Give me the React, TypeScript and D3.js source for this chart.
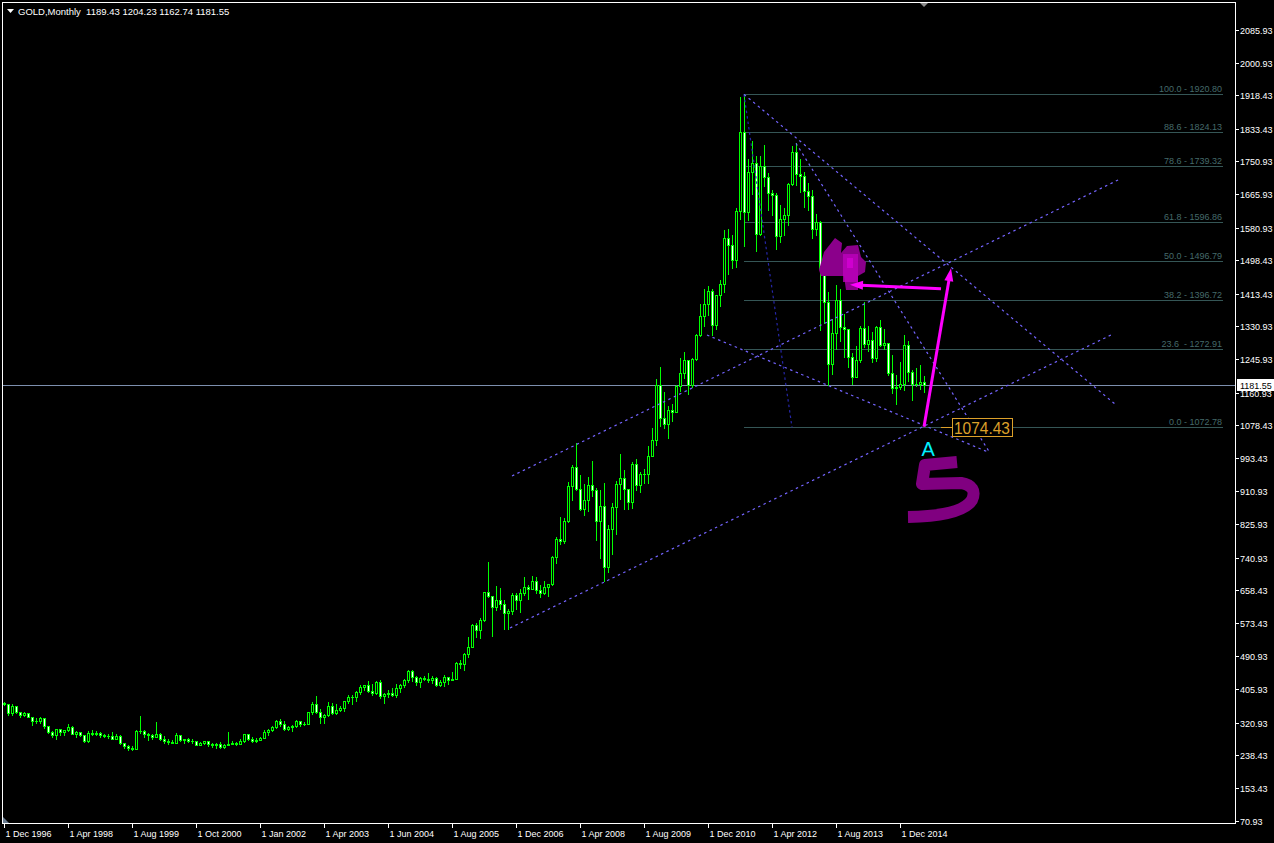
import React from 'react';
import * as d3 from 'd3';

type Bar = [number, number, number, number]; // open, high, low, close

// ---- candles (monthly OHLC, broker series with a few extra bars 1999-2005) ----
const bars1996to1999: Bar[] = [
  [371, 372, 365, 369], [369, 369, 341, 345], [345, 367, 340, 362], [362, 364, 346, 349],
  [349, 349, 336, 340], [340, 349, 337, 344], [344, 346, 334, 334], [334, 334, 314, 326],
  [326, 332, 319, 325], [325, 336, 320, 332], [332, 333, 307, 311], [311, 312, 294, 296],
  [296, 299, 283, 290], [290, 305, 278, 304], [304, 305, 289, 297], [297, 303, 288, 301],
  [301, 316, 300, 310], [310, 311, 292, 293], [293, 300, 285, 296], [296, 297, 286, 288],
  [288, 290, 271, 273], [273, 300, 272, 294], [294, 302, 288, 292], [292, 300, 290, 294],
  [294, 297, 283, 288], [288, 292, 283, 287], [287, 292, 282, 286], [286, 296, 278, 280],
  [280, 291, 278, 286], [286, 290, 266, 268], [268, 269, 257, 262], [262, 264, 252, 255],
];
const bars1999to2000: Bar[] = [
  [255, 261, 251, 254], [254, 302, 253, 299], [299, 338, 294, 299], [299, 301, 285, 292],
  [292, 294, 276, 290], [290, 292, 280, 283], [283, 322, 283, 293], [293, 294, 276, 278],
  [278, 286, 270, 274], [274, 280, 265, 272], [272, 276, 268, 270], [270, 294, 269, 288],
  [288, 290, 275, 277], [277, 280, 270, 278], [278, 281, 272, 275], [275, 278, 268, 273],
  [273, 275, 263, 264],
];
const bars2000to2002: Bar[] = [
  [264, 271, 263, 270], [270, 275, 267, 273], [273, 273, 262, 265], [265, 268, 259, 263],
  [263, 269, 255, 267], [267, 271, 256, 258], [258, 266, 255, 264], [264, 296, 263, 267],
  [267, 275, 265, 270], [270, 272, 264, 266], [266, 280, 265, 273], [273, 293, 271, 293],
  [293, 293, 277, 279], [279, 283, 272, 275], [275, 281, 272, 277], [277, 284, 276, 282],
];
const bars2002to2003: Bar[] = [
  [282, 302, 281, 297], [297, 304, 289, 302], [302, 311, 299, 309], [309, 328, 307, 326],
  [326, 331, 313, 318], [318, 324, 301, 305], [305, 312, 302, 309], [309, 315, 300, 312],
  [312, 327, 310, 324], [324, 326, 311, 318], [318, 322, 314, 318], [318, 349, 317, 347],
  [347, 372, 343, 368], [368, 389, 344, 348], [348, 355, 321, 335], [335, 342, 321, 339],
];
const bars2003to2004: Bar[] = [
  [339, 373, 338, 364], [364, 371, 342, 346], [346, 369, 342, 354], [354, 362, 350, 358],
  [358, 377, 350, 375], [375, 390, 370, 385], [385, 391, 368, 386], [386, 400, 375, 398],
  [398, 417, 394, 412], [412, 417, 405, 416], [416, 427, 398, 400], [400, 420, 391, 396],
  [396, 427, 393, 424], [424, 428, 383, 388], [388, 396, 371, 394], [394, 404, 385, 395],
];
const bars2004to2005: Bar[] = [
  [395, 408, 388, 391], [391, 418, 386, 408], [408, 418, 398, 416], [416, 432, 411, 429],
  [429, 456, 425, 453], [453, 456, 426, 438], [438, 439, 416, 423], [423, 438, 411, 435],
  [435, 440, 428, 432], [432, 446, 423, 428], [428, 439, 422, 435], [435, 436, 414, 417],
  [417, 428, 415, 424], [424, 443, 414, 436], [436, 437, 418, 429], [429, 449, 428, 433],
];
const bars2005to2006: Bar[] = [
  [433, 476, 433, 473], [473, 479, 460, 470], [470, 497, 456, 495], [495, 539, 488, 513],
  [513, 573, 513, 569], [569, 574, 538, 557], [557, 587, 537, 582], [582, 654, 580, 654],
  [654, 730, 640, 643], [643, 643, 542, 614], [614, 669, 608, 632], [632, 663, 611, 624],
  [624, 632, 560, 599], [599, 610, 560, 604], [604, 650, 597, 646], [646, 651, 609, 632],
];
const bars2007to2008: Bar[] = [
  [632, 660, 603, 650], [650, 691, 646, 665], [665, 671, 636, 662], [662, 693, 661, 681],
  [681, 691, 651, 659], [659, 671, 640, 650], [650, 682, 649, 665], [665, 675, 642, 673],
  [673, 744, 670, 743], [743, 794, 726, 789], [789, 845, 775, 783], [783, 842, 778, 834],
  [834, 933, 832, 923], [923, 976, 888, 971], [971, 1033, 912, 916], [916, 952, 862, 864],
  [864, 929, 849, 887], [887, 945, 859, 926], [926, 988, 899, 913], [913, 918, 786, 833],
  [833, 912, 740, 872], [872, 931, 681, 718], [718, 825, 705, 815], [815, 880, 749, 869],
];
const bars2009to2010: Bar[] = [
  [869, 937, 802, 928], [928, 1006, 889, 943], [943, 963, 866, 916], [916, 916, 866, 883],
  [883, 985, 868, 979], [979, 992, 913, 926], [926, 960, 907, 954], [954, 966, 931, 955],
  [955, 1024, 932, 1001], [1001, 1070, 1000, 1040], [1040, 1195, 1028, 1181], [1181, 1227, 1075, 1096],
  [1096, 1162, 1072, 1081], [1081, 1128, 1045, 1118], [1118, 1133, 1088, 1113], [1113, 1180, 1111, 1179],
  [1179, 1249, 1165, 1212], [1212, 1265, 1199, 1244], [1244, 1245, 1157, 1181], [1181, 1250, 1175, 1248],
  [1248, 1311, 1245, 1307], [1307, 1388, 1306, 1357], [1357, 1424, 1330, 1386], [1386, 1432, 1360, 1421],
];
const bars2011to2012: Bar[] = [
  [1421, 1424, 1309, 1333], [1333, 1411, 1324, 1410], [1410, 1447, 1381, 1439], [1439, 1576, 1417, 1556],
  [1556, 1577, 1462, 1536], [1536, 1562, 1478, 1500], [1500, 1632, 1480, 1624], [1624, 1913, 1603, 1826],
  [1826, 1920.8, 1535, 1620], [1620, 1756, 1601, 1722], [1722, 1803, 1666, 1746], [1746, 1764, 1523, 1564],
  [1564, 1764, 1562, 1738], [1738, 1791, 1688, 1710], [1710, 1720, 1627, 1669], [1669, 1677, 1613, 1664],
  [1664, 1670, 1527, 1560], [1560, 1640, 1545, 1604], [1604, 1631, 1563, 1614], [1614, 1694, 1589, 1692],
  [1692, 1790, 1689, 1773], [1773, 1796, 1691, 1719], [1719, 1755, 1672, 1714], [1714, 1723, 1635, 1675],
];
const bars2013to2015: Bar[] = [
  [1675, 1694, 1626, 1663], [1663, 1676, 1555, 1578], [1578, 1616, 1562, 1595], [1595, 1597, 1321, 1476],
  [1476, 1488, 1338, 1393], [1393, 1417, 1180, 1234], [1234, 1348, 1208, 1313], [1313, 1434, 1271, 1396],
  [1396, 1424, 1292, 1327], [1327, 1362, 1251, 1323], [1323, 1324, 1226, 1253], [1253, 1262, 1182, 1202],
  [1202, 1280, 1202, 1244], [1244, 1332, 1238, 1326], [1326, 1392, 1277, 1284], [1284, 1331, 1268, 1296],
  [1296, 1315, 1240, 1250], [1250, 1332, 1241, 1327], [1327, 1345, 1280, 1282], [1282, 1323, 1273, 1287],
  [1287, 1287, 1206, 1210], [1210, 1256, 1160, 1172], [1172, 1206, 1131, 1175], [1175, 1239, 1170, 1184],
  [1184, 1307, 1168, 1283], [1283, 1293, 1191, 1213], [1213, 1219, 1142, 1183], [1183, 1224, 1178, 1184],
  [1184, 1232, 1170, 1189], [1189.43, 1204.23, 1162.74, 1181.55],
];

const candles: Bar[] = [
  ...bars1996to1999, ...bars1999to2000, ...bars2000to2002, ...bars2002to2003,
  ...bars2003to2004, ...bars2004to2005, ...bars2005to2006, ...bars2007to2008,
  ...bars2009to2010, ...bars2011to2012, ...bars2013to2015,
];

// ---- axis labels ----
const dateLabels = [
  '1 Dec 1996', '1 Apr 1998', '1 Aug 1999', '1 Oct 2000', '1 Jan 2002', '1 Apr 2003',
  '1 Jun 2004', '1 Aug 2005', '1 Dec 2006', '1 Apr 2008', '1 Aug 2009', '1 Dec 2010',
  '1 Apr 2012', '1 Aug 2013', '1 Dec 2014',
];
const barsPerDateLabel = 16;
const priceTicks = [
  '2085.93', '2000.93', '1918.43', '1833.43', '1750.93', '1665.93', '1580.93', '1498.43',
  '1413.43', '1330.93', '1245.93', '1160.93', '1078.43', '993.43', '910.93', '825.93',
  '740.93', '658.43', '573.43', '490.93', '405.93', '320.93', '238.43', '153.43', '70.93',
];

// ---- header ----
const symbolTitle = 'GOLD,Monthly';
const lastOHLC = ['1189.43', '1204.23', '1162.74', '1181.55'];
const currentPrice = 1181.55;

// ---- Fibonacci retracement ----
const fibLevels = ['100.0', '88.6', '78.6', '61.8', '50.0', '38.2', '23.6 ', '0.0'];
const fibPrices = [1920.8, 1824.13, 1739.32, 1596.86, 1496.79, 1396.72, 1272.91, 1072.78];
const fibAnchorHigh: [number, number] = [185, 1920.8];
const fibAnchorLow: [number, number] = [197, 1072.78];
const fibRightIndex = 304.75;

// ---- trend lines (bar index, price) ----
const channelUpper: [number, number][] = [[127, 948.8], [279, 1705.1]];
const channelLower: [number, number][] = [[126.5, 561.7], [277.25, 1310.4]];
const downTrendOuter: [number, number][] = [[185, 1920.8], [277.75, 1132.1]];
const downTrendInner: [number, number][] = [[198, 1796], [246.5, 1007.3]];
const supportLine: [number, number][] = [[175.75, 1307.8], [246, 1009.9]];

// ---- annotations ----
const markerPoint: [number, number] = [230, 1074.43];
const markerText = '1074.43';
const arrowUp: [number, number][] = [[230, 1074.43], [236.75, 1478]];
const arrowLeft: [number, number][] = [[234.25, 1425.4], [211.5, 1436]];
const wave4Anchor: [number, number] = [204, 1473.4];
const wave5Anchor: [number, number] = [229.25, 928.4];

const W = 1274;
const H = 843;
const FONT = "'Liberation Sans', Arial, sans-serif";

const yScale = d3.scaleLinear().domain([70.93, 2085.93]).range([820.7, 29.5]);
const xScale = d3.scaleLinear().domain([0, 230]).range([4, 924]);

const frame = { left: 2.5, top: 2.5, right: 1235.5, bottom: 823.5 };

function pt(p: [number, number]): [number, number] {
  return [xScale(p[0]), yScale(p[1])];
}

function Arrow({ from, to }: { from: [number, number]; to: [number, number] }) {
  const [x1, y1] = pt(from);
  const [x2, y2] = pt(to);
  const dx = x2 - x1, dy = y2 - y1;
  const len = Math.hypot(dx, dy);
  const ux = dx / len, uy = dy / len;
  const hl = 13, hw = 4.5;
  const bx = x2 - ux * hl, by = y2 - uy * hl;
  const px = -uy, py = ux;
  const head = `${x2},${y2} ${bx + px * hw},${by + py * hw} ${bx - px * hw},${by - py * hw}`;
  return (
    <g>
      <line x1={x1} y1={y1} x2={bx + ux * 2} y2={by + uy * 2} stroke="#ff00ff" strokeWidth={3} />
      <polygon points={head} fill="#ff00ff" />
    </g>
  );
}

function Dotted({ seg, color = '#7464ff', dash = '2.5,3.5' }: { seg: [number, number][]; color?: string; dash?: string }) {
  const [a, b] = [pt(seg[0]), pt(seg[1])];
  return <line x1={a[0]} y1={a[1]} x2={b[0]} y2={b[1]} stroke={color} strokeWidth={1.2} strokeDasharray={dash} />;
}

export default function App() {
  const fibX1 = Math.round(xScale(fibAnchorHigh[0]));
  const fibX2 = Math.round(xScale(fibRightIndex));
  const curY = Math.round(yScale(currentPrice)) + 0.5;
  const [mx, my] = pt(markerPoint);
  const [w4x, w4y] = pt(wave4Anchor);
  const [w5x, w5y] = pt(wave5Anchor);
  const lastX = Math.round(xScale(candles.length - 1));

  return (
    <svg
      width={W}
      height={H}
      style={{ position: 'fixed', left: 0, top: 0, display: 'block', background: '#000' }}
      fontFamily={FONT}
    >
      <rect x={0} y={0} width={W} height={H} fill="#000" />

      {/* Fibonacci levels */}
      <g shapeRendering="crispEdges">
        {fibPrices.map((p, i) => {
          const y = Math.round(yScale(p)) + 0.5;
          return <line key={i} x1={fibX1} x2={fibX2} y1={y} y2={y} stroke="#355656" strokeWidth={1} />;
        })}
      </g>
      {fibPrices.map((p, i) => (
        <text
          key={i}
          x={fibX2 - 1}
          y={Math.round(yScale(p)) - 2}
          textAnchor="end"
          fontSize={9}
          fill="#456a6a"
          style={{ whiteSpace: 'pre' }}
        >
          {`${fibLevels[i]} - ${p.toFixed(2)}`}
        </text>
      ))}

      {/* current price line */}
      <line x1={frame.left} x2={frame.right} y1={curY} y2={curY} stroke="#7d8fae" strokeWidth={1} shapeRendering="crispEdges" />

      {/* candles */}
      <g shapeRendering="crispEdges">
        {candles.map((c, i) => {
          const [o, h, l, cl] = c;
          const x = Math.round(xScale(i));
          const yH = Math.round(yScale(h));
          const yL = Math.round(yScale(l));
          const yTop = Math.round(yScale(Math.max(o, cl)));
          const yBot = Math.round(yScale(Math.min(o, cl)));
          const bull = cl > o;
          const bh = yBot - yTop;
          return (
            <g key={i}>
              <line x1={x + 0.5} x2={x + 0.5} y1={yH} y2={yL + 1} stroke="#00ff00" strokeWidth={1} />
              {bh >= 1 ? (
                <rect x={x - 0.5} y={yTop + 0.5} width={2} height={bh} fill={bull ? '#000' : '#fff'} stroke="#00ff00" strokeWidth={1} />
              ) : (
                <line x1={x - 1} x2={x + 2} y1={yTop + 0.5} y2={yTop + 0.5} stroke="#00ff00" strokeWidth={1} />
              )}
            </g>
          );
        })}
      </g>

      {/* trend lines */}
      <Dotted seg={[fibAnchorHigh, fibAnchorLow]} color="#2626a8" dash="2.5,3" />
      <Dotted seg={channelUpper} />
      <Dotted seg={channelLower} />
      <Dotted seg={downTrendOuter} />
      <Dotted seg={downTrendInner} />
      <Dotted seg={supportLine} />

      {/* wave 4 handwriting */}
      <g transform={`translate(${w4x},${w4y})`}>
        <path
          d="M-1 0 L4 -18 L15 -32 L22 -27 L21 -17 L27 -24 L38 -25 L41 -13 L46 -8 L45 2 L38 6 L38 20 L26 20 L24 6 L1 6 Z"
          fill="#8b008b"
        />
        <rect x={23} y={-16} width={15} height={28} fill="#c000c0" opacity={0.75} />
        <rect x={27} y={-12} width={6} height={10} fill="#e000e0" opacity={0.6} />
      </g>

      {/* wave 5 handwriting */}
      <g transform={`translate(${w5x},${w5y})`}>
        <path
          d="M36 -22 L4 -19 L1 0 L40 -1 Q57 2 51 16 Q41 32 -13 33"
          fill="none"
          stroke="#800080"
          strokeWidth={12}
          strokeLinejoin="round"
        />
      </g>

      {/* magenta arrows */}
      <Arrow from={arrowUp[0]} to={arrowUp[1]} />
      <Arrow from={arrowLeft[0]} to={arrowLeft[1]} />

      {/* A label */}
      <text x={mx - 2.5} y={my + 29} fontSize={20} fill="#00f0ff">A</text>

      {/* price marker 1074.43 */}
      <line x1={mx + 17} x2={mx + 28} y1={Math.round(my) + 0.5} y2={Math.round(my) + 0.5} stroke="#dca02a" strokeWidth={1} />
      <rect x={mx + 28.5} y={Math.round(my) - 8.5} width={60} height={18} fill="#000" stroke="#dca02a" strokeWidth={1} />
      <text x={mx + 30} y={Math.round(my) + 7} fontSize={16.5} fill="#dca02a" textLength={56} lengthAdjust="spacingAndGlyphs">
        {markerText}
      </text>

      {/* frame */}
      <rect
        x={frame.left}
        y={frame.top}
        width={frame.right - frame.left}
        height={frame.bottom - frame.top}
        fill="none"
        stroke="#ffffff"
        strokeWidth={1}
        shapeRendering="crispEdges"
      />
      {/* chart shift marker */}
      <polygon points={`${lastX - 4},3 ${lastX + 4},3 ${lastX},7`} fill="#8c8c8c" />
      <polygon points={`3,817 3,823 9,823`} fill="#6a7c90" />

      {/* header */}
      <polygon points="7,9 14,9 10.5,13" fill="#ffffff" />
      <text x={18} y={14.5} fontSize={9.5} fill="#ffffff" style={{ whiteSpace: 'pre' }}>
        {`${symbolTitle}  ${lastOHLC.join(' ')}`}
      </text>

      {/* price axis */}
      {priceTicks.map((t) => {
        const y = Math.round(yScale(parseFloat(t))) + 0.5;
        return (
          <g key={t}>
            <line x1={1236} x2={1239} y1={y} y2={y} stroke="#fff" strokeWidth={1} shapeRendering="crispEdges" />
            <text x={1240} y={y + 3.5} fontSize={9} fill="#fff">{t}</text>
          </g>
        );
      })}
      <rect x={1237} y={curY - 6.5} width={37} height={12} fill="#fff" />
      <text x={1240} y={curY + 3.5} fontSize={9} fill="#000">{lastOHLC[3]}</text>

      {/* time axis */}
      {dateLabels.map((d, k) => {
        const x = Math.round(xScale(k * barsPerDateLabel)) + 0.5;
        return (
          <g key={d}>
            <line x1={x} x2={x} y1={frame.bottom} y2={frame.bottom + 4} stroke="#fff" strokeWidth={1} shapeRendering="crispEdges" />
            <text x={x + 1} y={frame.bottom + 13} fontSize={9} fill="#fff">{d}</text>
          </g>
        );
      })}
    </svg>
  );
}
